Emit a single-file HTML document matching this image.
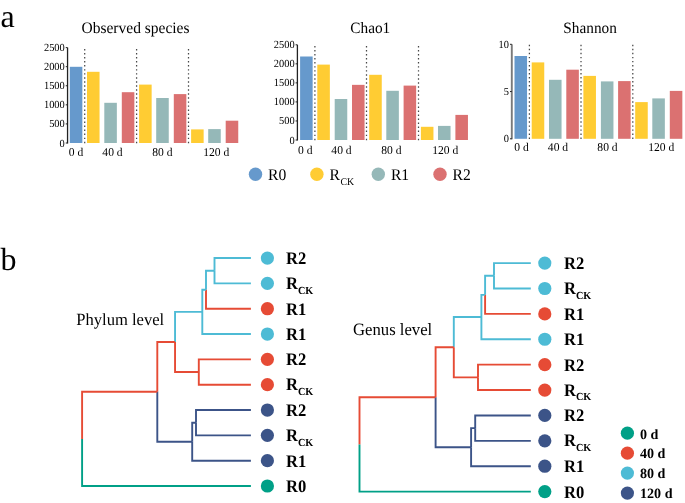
<!DOCTYPE html><html><head><meta charset="utf-8"><style>html,body{margin:0;padding:0;background:#fff;overflow:hidden;}svg{display:block;will-change:transform;} text{text-rendering:geometricPrecision;font-family:"Liberation Serif",serif;}</style></head><body>
<svg width="685" height="503" viewBox="0 0 685 503">
<rect width="685" height="503" fill="#fff"/>
<text x="0.50" y="26.50" font-size="32">a</text>
<text x="0.50" y="270.20" font-size="32">b</text>
<rect x="69.8" y="66.8" width="12.55" height="76.2" fill="#6699CC"/>
<rect x="87" y="71.8" width="12.55" height="71.2" fill="#FFCC33"/>
<rect x="104.3" y="102.8" width="12.55" height="40.2" fill="#95B8B8"/>
<rect x="121.8" y="92.2" width="12.55" height="50.8" fill="#DB7171"/>
<rect x="139.1" y="84.6" width="12.55" height="58.4" fill="#FFCC33"/>
<rect x="156.2" y="98" width="12.55" height="45" fill="#95B8B8"/>
<rect x="173.8" y="94.1" width="12.55" height="48.9" fill="#DB7171"/>
<rect x="191.1" y="129.4" width="12.55" height="13.6" fill="#FFCC33"/>
<rect x="208.2" y="129.1" width="12.55" height="13.9" fill="#95B8B8"/>
<rect x="225.7" y="120.7" width="12.55" height="22.3" fill="#DB7171"/>
<path d="M84.08,141.68h1.25v1.45h-1.25zM84.08,137.65h1.25v1.45h-1.25zM84.08,133.62h1.25v1.45h-1.25zM84.08,129.59h1.25v1.45h-1.25zM84.08,125.56h1.25v1.45h-1.25zM84.08,121.53h1.25v1.45h-1.25zM84.08,117.50h1.25v1.45h-1.25zM84.08,113.47h1.25v1.45h-1.25zM84.08,109.44h1.25v1.45h-1.25zM84.08,105.41h1.25v1.45h-1.25zM84.08,101.38h1.25v1.45h-1.25zM84.08,97.34h1.25v1.45h-1.25zM84.08,93.32h1.25v1.45h-1.25zM84.08,89.29h1.25v1.45h-1.25zM84.08,85.26h1.25v1.45h-1.25zM84.08,81.23h1.25v1.45h-1.25zM84.08,77.20h1.25v1.45h-1.25zM84.08,73.17h1.25v1.45h-1.25zM84.08,69.14h1.25v1.45h-1.25zM84.08,65.11h1.25v1.45h-1.25zM84.08,61.07h1.25v1.45h-1.25zM84.08,57.04h1.25v1.45h-1.25zM84.08,53.01h1.25v1.45h-1.25zM84.08,48.98h1.25v1.45h-1.25z" fill="#474747"/>
<path d="M135.97,141.68h1.25v1.45h-1.25zM135.97,137.65h1.25v1.45h-1.25zM135.97,133.62h1.25v1.45h-1.25zM135.97,129.59h1.25v1.45h-1.25zM135.97,125.56h1.25v1.45h-1.25zM135.97,121.53h1.25v1.45h-1.25zM135.97,117.50h1.25v1.45h-1.25zM135.97,113.47h1.25v1.45h-1.25zM135.97,109.44h1.25v1.45h-1.25zM135.97,105.41h1.25v1.45h-1.25zM135.97,101.38h1.25v1.45h-1.25zM135.97,97.34h1.25v1.45h-1.25zM135.97,93.32h1.25v1.45h-1.25zM135.97,89.29h1.25v1.45h-1.25zM135.97,85.26h1.25v1.45h-1.25zM135.97,81.23h1.25v1.45h-1.25zM135.97,77.20h1.25v1.45h-1.25zM135.97,73.17h1.25v1.45h-1.25zM135.97,69.14h1.25v1.45h-1.25zM135.97,65.11h1.25v1.45h-1.25zM135.97,61.07h1.25v1.45h-1.25zM135.97,57.04h1.25v1.45h-1.25zM135.97,53.01h1.25v1.45h-1.25zM135.97,48.98h1.25v1.45h-1.25z" fill="#474747"/>
<path d="M187.88,141.68h1.25v1.45h-1.25zM187.88,137.65h1.25v1.45h-1.25zM187.88,133.62h1.25v1.45h-1.25zM187.88,129.59h1.25v1.45h-1.25zM187.88,125.56h1.25v1.45h-1.25zM187.88,121.53h1.25v1.45h-1.25zM187.88,117.50h1.25v1.45h-1.25zM187.88,113.47h1.25v1.45h-1.25zM187.88,109.44h1.25v1.45h-1.25zM187.88,105.41h1.25v1.45h-1.25zM187.88,101.38h1.25v1.45h-1.25zM187.88,97.34h1.25v1.45h-1.25zM187.88,93.32h1.25v1.45h-1.25zM187.88,89.29h1.25v1.45h-1.25zM187.88,85.26h1.25v1.45h-1.25zM187.88,81.23h1.25v1.45h-1.25zM187.88,77.20h1.25v1.45h-1.25zM187.88,73.17h1.25v1.45h-1.25zM187.88,69.14h1.25v1.45h-1.25zM187.88,65.11h1.25v1.45h-1.25zM187.88,61.07h1.25v1.45h-1.25zM187.88,57.04h1.25v1.45h-1.25zM187.88,53.01h1.25v1.45h-1.25zM187.88,48.98h1.25v1.45h-1.25z" fill="#474747"/>
<line x1="67.55" y1="47.6" x2="67.55" y2="143.5" stroke="#222" stroke-width="1.3"/>
<line x1="65.75" y1="143.00" x2="67.55" y2="143.00" stroke="#222" stroke-width="1"/>
<text transform="translate(64.75,146.50) scale(1,1.04)" font-size="10.4" text-anchor="end">0</text>
<line x1="65.75" y1="123.92" x2="67.55" y2="123.92" stroke="#222" stroke-width="1"/>
<text transform="translate(64.75,127.42) scale(1,1.04)" font-size="10.4" text-anchor="end">500</text>
<line x1="65.75" y1="104.84" x2="67.55" y2="104.84" stroke="#222" stroke-width="1"/>
<text transform="translate(64.75,108.34) scale(1,1.04)" font-size="10.4" text-anchor="end">1000</text>
<line x1="65.75" y1="85.76" x2="67.55" y2="85.76" stroke="#222" stroke-width="1"/>
<text transform="translate(64.75,89.26) scale(1,1.04)" font-size="10.4" text-anchor="end">1500</text>
<line x1="65.75" y1="66.68" x2="67.55" y2="66.68" stroke="#222" stroke-width="1"/>
<text transform="translate(64.75,70.18) scale(1,1.04)" font-size="10.4" text-anchor="end">2000</text>
<line x1="65.75" y1="47.60" x2="67.55" y2="47.60" stroke="#222" stroke-width="1"/>
<text transform="translate(64.75,51.10) scale(1,1.04)" font-size="10.4" text-anchor="end">2500</text>
<text transform="translate(76.00,155.60) scale(1,1.03)" font-size="11.6" text-anchor="middle">0 d</text>
<text transform="translate(112.50,155.60) scale(1,1.03)" font-size="11.6" text-anchor="middle">40 d</text>
<text transform="translate(162.40,155.60) scale(1,1.03)" font-size="11.6" text-anchor="middle">80 d</text>
<text transform="translate(216.30,155.60) scale(1,1.03)" font-size="11.6" text-anchor="middle">120 d</text>
<text transform="translate(135.50,32.90) scale(1,1.03)" font-size="15.5" text-anchor="middle">Observed species</text>
<rect x="300.1" y="56.5" width="12.55" height="83.5" fill="#6699CC"/>
<rect x="317.3" y="64.6" width="12.55" height="75.4" fill="#FFCC33"/>
<rect x="334.7" y="99" width="12.55" height="41" fill="#95B8B8"/>
<rect x="352" y="84.85" width="12.55" height="55.15" fill="#DB7171"/>
<rect x="369.2" y="74.8" width="12.55" height="65.2" fill="#FFCC33"/>
<rect x="386.3" y="90.8" width="12.55" height="49.2" fill="#95B8B8"/>
<rect x="403.6" y="85.6" width="12.55" height="54.4" fill="#DB7171"/>
<rect x="420.9" y="126.8" width="12.55" height="13.2" fill="#FFCC33"/>
<rect x="438" y="125.9" width="12.55" height="14.1" fill="#95B8B8"/>
<rect x="455.4" y="114.9" width="12.55" height="25.1" fill="#DB7171"/>
<path d="M314.27,138.68h1.25v1.45h-1.25zM314.27,134.65h1.25v1.45h-1.25zM314.27,130.62h1.25v1.45h-1.25zM314.27,126.59h1.25v1.45h-1.25zM314.27,122.56h1.25v1.45h-1.25zM314.27,118.53h1.25v1.45h-1.25zM314.27,114.50h1.25v1.45h-1.25zM314.27,110.47h1.25v1.45h-1.25zM314.27,106.44h1.25v1.45h-1.25zM314.27,102.41h1.25v1.45h-1.25zM314.27,98.38h1.25v1.45h-1.25zM314.27,94.34h1.25v1.45h-1.25zM314.27,90.32h1.25v1.45h-1.25zM314.27,86.29h1.25v1.45h-1.25zM314.27,82.26h1.25v1.45h-1.25zM314.27,78.23h1.25v1.45h-1.25zM314.27,74.20h1.25v1.45h-1.25zM314.27,70.17h1.25v1.45h-1.25zM314.27,66.14h1.25v1.45h-1.25zM314.27,62.10h1.25v1.45h-1.25zM314.27,58.07h1.25v1.45h-1.25zM314.27,54.04h1.25v1.45h-1.25zM314.27,50.01h1.25v1.45h-1.25zM314.27,45.98h1.25v1.45h-1.25z" fill="#474747"/>
<path d="M365.88,138.68h1.25v1.45h-1.25zM365.88,134.65h1.25v1.45h-1.25zM365.88,130.62h1.25v1.45h-1.25zM365.88,126.59h1.25v1.45h-1.25zM365.88,122.56h1.25v1.45h-1.25zM365.88,118.53h1.25v1.45h-1.25zM365.88,114.50h1.25v1.45h-1.25zM365.88,110.47h1.25v1.45h-1.25zM365.88,106.44h1.25v1.45h-1.25zM365.88,102.41h1.25v1.45h-1.25zM365.88,98.38h1.25v1.45h-1.25zM365.88,94.34h1.25v1.45h-1.25zM365.88,90.32h1.25v1.45h-1.25zM365.88,86.29h1.25v1.45h-1.25zM365.88,82.26h1.25v1.45h-1.25zM365.88,78.23h1.25v1.45h-1.25zM365.88,74.20h1.25v1.45h-1.25zM365.88,70.17h1.25v1.45h-1.25zM365.88,66.14h1.25v1.45h-1.25zM365.88,62.10h1.25v1.45h-1.25zM365.88,58.07h1.25v1.45h-1.25zM365.88,54.04h1.25v1.45h-1.25zM365.88,50.01h1.25v1.45h-1.25zM365.88,45.98h1.25v1.45h-1.25z" fill="#474747"/>
<path d="M417.88,138.68h1.25v1.45h-1.25zM417.88,134.65h1.25v1.45h-1.25zM417.88,130.62h1.25v1.45h-1.25zM417.88,126.59h1.25v1.45h-1.25zM417.88,122.56h1.25v1.45h-1.25zM417.88,118.53h1.25v1.45h-1.25zM417.88,114.50h1.25v1.45h-1.25zM417.88,110.47h1.25v1.45h-1.25zM417.88,106.44h1.25v1.45h-1.25zM417.88,102.41h1.25v1.45h-1.25zM417.88,98.38h1.25v1.45h-1.25zM417.88,94.34h1.25v1.45h-1.25zM417.88,90.32h1.25v1.45h-1.25zM417.88,86.29h1.25v1.45h-1.25zM417.88,82.26h1.25v1.45h-1.25zM417.88,78.23h1.25v1.45h-1.25zM417.88,74.20h1.25v1.45h-1.25zM417.88,70.17h1.25v1.45h-1.25zM417.88,66.14h1.25v1.45h-1.25zM417.88,62.10h1.25v1.45h-1.25zM417.88,58.07h1.25v1.45h-1.25zM417.88,54.04h1.25v1.45h-1.25zM417.88,50.01h1.25v1.45h-1.25zM417.88,45.98h1.25v1.45h-1.25z" fill="#474747"/>
<line x1="297.4" y1="44.8" x2="297.4" y2="140.5" stroke="#222" stroke-width="1.3"/>
<line x1="295.59999999999997" y1="140.00" x2="297.4" y2="140.00" stroke="#222" stroke-width="1"/>
<text transform="translate(294.60,143.50) scale(1,1.04)" font-size="10.4" text-anchor="end">0</text>
<line x1="295.59999999999997" y1="120.96" x2="297.4" y2="120.96" stroke="#222" stroke-width="1"/>
<text transform="translate(294.60,124.46) scale(1,1.04)" font-size="10.4" text-anchor="end">500</text>
<line x1="295.59999999999997" y1="101.92" x2="297.4" y2="101.92" stroke="#222" stroke-width="1"/>
<text transform="translate(294.60,105.42) scale(1,1.04)" font-size="10.4" text-anchor="end">1000</text>
<line x1="295.59999999999997" y1="82.88" x2="297.4" y2="82.88" stroke="#222" stroke-width="1"/>
<text transform="translate(294.60,86.38) scale(1,1.04)" font-size="10.4" text-anchor="end">1500</text>
<line x1="295.59999999999997" y1="63.84" x2="297.4" y2="63.84" stroke="#222" stroke-width="1"/>
<text transform="translate(294.60,67.34) scale(1,1.04)" font-size="10.4" text-anchor="end">2000</text>
<line x1="295.59999999999997" y1="44.80" x2="297.4" y2="44.80" stroke="#222" stroke-width="1"/>
<text transform="translate(294.60,48.30) scale(1,1.04)" font-size="10.4" text-anchor="end">2500</text>
<text transform="translate(305.30,153.60) scale(1,1.03)" font-size="11.6" text-anchor="middle">0 d</text>
<text transform="translate(341.50,153.60) scale(1,1.03)" font-size="11.6" text-anchor="middle">40 d</text>
<text transform="translate(391.40,153.60) scale(1,1.03)" font-size="11.6" text-anchor="middle">80 d</text>
<text transform="translate(445.30,153.60) scale(1,1.03)" font-size="11.6" text-anchor="middle">120 d</text>
<text transform="translate(370.30,32.70) scale(1,1.03)" font-size="15.3" text-anchor="middle">Chao1</text>
<rect x="514.5" y="56" width="12.55" height="82.8" fill="#6699CC"/>
<rect x="531.7" y="62.4" width="12.55" height="76.4" fill="#FFCC33"/>
<rect x="549" y="79.8" width="12.55" height="59.0" fill="#95B8B8"/>
<rect x="566.3" y="69.7" width="12.55" height="69.1" fill="#DB7171"/>
<rect x="583.4" y="75.9" width="12.55" height="62.9" fill="#FFCC33"/>
<rect x="600.9" y="81.4" width="12.55" height="57.4" fill="#95B8B8"/>
<rect x="618.1" y="81.1" width="12.55" height="57.7" fill="#DB7171"/>
<rect x="635.2" y="102.1" width="12.55" height="36.7" fill="#FFCC33"/>
<rect x="652.3" y="98.4" width="12.55" height="40.4" fill="#95B8B8"/>
<rect x="669.8" y="90.9" width="12.55" height="47.9" fill="#DB7171"/>
<path d="M528.77,137.48h1.25v1.45h-1.25zM528.77,133.45h1.25v1.45h-1.25zM528.77,129.42h1.25v1.45h-1.25zM528.77,125.39h1.25v1.45h-1.25zM528.77,121.36h1.25v1.45h-1.25zM528.77,117.33h1.25v1.45h-1.25zM528.77,113.30h1.25v1.45h-1.25zM528.77,109.27h1.25v1.45h-1.25zM528.77,105.24h1.25v1.45h-1.25zM528.77,101.21h1.25v1.45h-1.25zM528.77,97.18h1.25v1.45h-1.25zM528.77,93.15h1.25v1.45h-1.25zM528.77,89.12h1.25v1.45h-1.25zM528.77,85.09h1.25v1.45h-1.25zM528.77,81.06h1.25v1.45h-1.25zM528.77,77.03h1.25v1.45h-1.25zM528.77,73.00h1.25v1.45h-1.25zM528.77,68.97h1.25v1.45h-1.25zM528.77,64.94h1.25v1.45h-1.25zM528.77,60.91h1.25v1.45h-1.25zM528.77,56.88h1.25v1.45h-1.25zM528.77,52.85h1.25v1.45h-1.25zM528.77,48.82h1.25v1.45h-1.25zM528.77,44.79h1.25v1.45h-1.25z" fill="#474747"/>
<path d="M580.38,137.48h1.25v1.45h-1.25zM580.38,133.45h1.25v1.45h-1.25zM580.38,129.42h1.25v1.45h-1.25zM580.38,125.39h1.25v1.45h-1.25zM580.38,121.36h1.25v1.45h-1.25zM580.38,117.33h1.25v1.45h-1.25zM580.38,113.30h1.25v1.45h-1.25zM580.38,109.27h1.25v1.45h-1.25zM580.38,105.24h1.25v1.45h-1.25zM580.38,101.21h1.25v1.45h-1.25zM580.38,97.18h1.25v1.45h-1.25zM580.38,93.15h1.25v1.45h-1.25zM580.38,89.12h1.25v1.45h-1.25zM580.38,85.09h1.25v1.45h-1.25zM580.38,81.06h1.25v1.45h-1.25zM580.38,77.03h1.25v1.45h-1.25zM580.38,73.00h1.25v1.45h-1.25zM580.38,68.97h1.25v1.45h-1.25zM580.38,64.94h1.25v1.45h-1.25zM580.38,60.91h1.25v1.45h-1.25zM580.38,56.88h1.25v1.45h-1.25zM580.38,52.85h1.25v1.45h-1.25zM580.38,48.82h1.25v1.45h-1.25zM580.38,44.79h1.25v1.45h-1.25z" fill="#474747"/>
<path d="M632.17,137.48h1.25v1.45h-1.25zM632.17,133.45h1.25v1.45h-1.25zM632.17,129.42h1.25v1.45h-1.25zM632.17,125.39h1.25v1.45h-1.25zM632.17,121.36h1.25v1.45h-1.25zM632.17,117.33h1.25v1.45h-1.25zM632.17,113.30h1.25v1.45h-1.25zM632.17,109.27h1.25v1.45h-1.25zM632.17,105.24h1.25v1.45h-1.25zM632.17,101.21h1.25v1.45h-1.25zM632.17,97.18h1.25v1.45h-1.25zM632.17,93.15h1.25v1.45h-1.25zM632.17,89.12h1.25v1.45h-1.25zM632.17,85.09h1.25v1.45h-1.25zM632.17,81.06h1.25v1.45h-1.25zM632.17,77.03h1.25v1.45h-1.25zM632.17,73.00h1.25v1.45h-1.25zM632.17,68.97h1.25v1.45h-1.25zM632.17,64.94h1.25v1.45h-1.25zM632.17,60.91h1.25v1.45h-1.25zM632.17,56.88h1.25v1.45h-1.25zM632.17,52.85h1.25v1.45h-1.25zM632.17,48.82h1.25v1.45h-1.25zM632.17,44.79h1.25v1.45h-1.25z" fill="#474747"/>
<line x1="511.8" y1="44.3" x2="511.8" y2="139.3" stroke="#7a7a7a" stroke-width="1.9"/>
<line x1="510.0" y1="138.80" x2="511.8" y2="138.80" stroke="#222" stroke-width="1"/>
<text transform="translate(509.00,142.30) scale(1,1.04)" font-size="10.4" text-anchor="end">0</text>
<line x1="510.0" y1="91.55" x2="511.8" y2="91.55" stroke="#222" stroke-width="1"/>
<text transform="translate(509.00,95.05) scale(1,1.04)" font-size="10.4" text-anchor="end">5</text>
<line x1="510.0" y1="44.30" x2="511.8" y2="44.30" stroke="#222" stroke-width="1"/>
<text transform="translate(509.00,47.80) scale(1,1.04)" font-size="10.4" text-anchor="end">10</text>
<text transform="translate(521.60,150.80) scale(1,1.03)" font-size="11.6" text-anchor="middle">0 d</text>
<text transform="translate(558.00,150.80) scale(1,1.03)" font-size="11.6" text-anchor="middle">40 d</text>
<text transform="translate(607.50,150.80) scale(1,1.03)" font-size="11.6" text-anchor="middle">80 d</text>
<text transform="translate(661.30,150.80) scale(1,1.03)" font-size="11.6" text-anchor="middle">120 d</text>
<text transform="translate(590.10,32.80) scale(1,1.03)" font-size="15.3" text-anchor="middle">Shannon</text>
<circle cx="255.5" cy="174.2" r="6.7" fill="#6699CC"/>
<text transform="translate(268.10,179.90) scale(1,1.04)" font-size="15.6">R0</text>
<circle cx="316.9" cy="174.2" r="6.7" fill="#FFCC33"/>
<text transform="translate(329.50,179.90) scale(1,1.04)" font-size="15.6">R<tspan font-size="9.8" dx="0.6" dy="5.1">CK</tspan></text>
<circle cx="378.3" cy="174.2" r="6.7" fill="#95B8B8"/>
<text transform="translate(390.90,179.90) scale(1,1.04)" font-size="15.6">R1</text>
<circle cx="440" cy="174.2" r="6.7" fill="#DB7171"/>
<text transform="translate(452.60,179.90) scale(1,1.04)" font-size="15.6">R2</text>
<path d="M250.90,258.05H214.50V270.72" fill="none" stroke="#4DBBD5" stroke-width="1.9" stroke-linejoin="miter" stroke-linecap="butt"/>
<path d="M214.50,270.72V283.38H250.90" fill="none" stroke="#4DBBD5" stroke-width="1.9" stroke-linejoin="miter" stroke-linecap="butt"/>
<path d="M214.50,270.72H206.00V289.71" fill="none" stroke="#4DBBD5" stroke-width="1.9" stroke-linejoin="miter" stroke-linecap="butt"/>
<path d="M206.00,289.71V308.71H250.90" fill="none" stroke="#E64B35" stroke-width="1.9" stroke-linejoin="miter" stroke-linecap="butt"/>
<path d="M206.00,289.71H202.30V311.88" fill="none" stroke="#4DBBD5" stroke-width="1.9" stroke-linejoin="miter" stroke-linecap="butt"/>
<path d="M202.30,311.88V334.04H250.90" fill="none" stroke="#4DBBD5" stroke-width="1.9" stroke-linejoin="miter" stroke-linecap="butt"/>
<path d="M250.90,359.37H198.80V372.03" fill="none" stroke="#E64B35" stroke-width="1.9" stroke-linejoin="miter" stroke-linecap="butt"/>
<path d="M198.80,372.03V384.70H250.90" fill="none" stroke="#E64B35" stroke-width="1.9" stroke-linejoin="miter" stroke-linecap="butt"/>
<path d="M202.30,311.88H175.05V341.96" fill="none" stroke="#4DBBD5" stroke-width="1.9" stroke-linejoin="miter" stroke-linecap="butt"/>
<path d="M175.05,341.96V372.03H198.80" fill="none" stroke="#E64B35" stroke-width="1.9" stroke-linejoin="miter" stroke-linecap="butt"/>
<path d="M250.90,410.03H196.00V422.69" fill="none" stroke="#3C5488" stroke-width="1.9" stroke-linejoin="miter" stroke-linecap="butt"/>
<path d="M196.00,422.69V435.36H250.90" fill="none" stroke="#3C5488" stroke-width="1.9" stroke-linejoin="miter" stroke-linecap="butt"/>
<path d="M196.00,422.69H192.20V441.69" fill="none" stroke="#3C5488" stroke-width="1.9" stroke-linejoin="miter" stroke-linecap="butt"/>
<path d="M192.20,441.69V460.69H250.90" fill="none" stroke="#3C5488" stroke-width="1.9" stroke-linejoin="miter" stroke-linecap="butt"/>
<path d="M175.05,341.96H157.30V391.82" fill="none" stroke="#E64B35" stroke-width="1.9" stroke-linejoin="miter" stroke-linecap="butt"/>
<path d="M157.30,391.82V441.69H192.20" fill="none" stroke="#3C5488" stroke-width="1.9" stroke-linejoin="miter" stroke-linecap="butt"/>
<path d="M157.30,391.82H82.10V438.92" fill="none" stroke="#E64B35" stroke-width="1.9" stroke-linejoin="miter" stroke-linecap="butt"/>
<path d="M82.10,438.92V486.02H250.90" fill="none" stroke="#00A087" stroke-width="1.9" stroke-linejoin="miter" stroke-linecap="butt"/>
<circle cx="267.4" cy="258.05" r="6.6" fill="#4DBBD5"/>
<text transform="translate(286.00,264.05) scale(1,1.06)" font-size="16.6" font-weight="bold">R2</text>
<circle cx="267.4" cy="283.38" r="6.6" fill="#4DBBD5"/>
<text transform="translate(286.00,288.98) scale(1,1.06)" font-size="16.6" font-weight="bold">R<tspan font-size="10.2" dy="4.5">CK</tspan></text>
<circle cx="267.4" cy="308.71" r="6.6" fill="#E64B35"/>
<text transform="translate(286.00,314.71) scale(1,1.06)" font-size="16.6" font-weight="bold">R1</text>
<circle cx="267.4" cy="334.04" r="6.6" fill="#4DBBD5"/>
<text transform="translate(286.00,340.04) scale(1,1.06)" font-size="16.6" font-weight="bold">R1</text>
<circle cx="267.4" cy="359.37" r="6.6" fill="#E64B35"/>
<text transform="translate(286.00,365.37) scale(1,1.06)" font-size="16.6" font-weight="bold">R2</text>
<circle cx="267.4" cy="384.70" r="6.6" fill="#E64B35"/>
<text transform="translate(286.00,390.30) scale(1,1.06)" font-size="16.6" font-weight="bold">R<tspan font-size="10.2" dy="4.5">CK</tspan></text>
<circle cx="267.4" cy="410.03" r="6.6" fill="#3C5488"/>
<text transform="translate(286.00,416.03) scale(1,1.06)" font-size="16.6" font-weight="bold">R2</text>
<circle cx="267.4" cy="435.36" r="6.6" fill="#3C5488"/>
<text transform="translate(286.00,440.96) scale(1,1.06)" font-size="16.6" font-weight="bold">R<tspan font-size="10.2" dy="4.5">CK</tspan></text>
<circle cx="267.4" cy="460.69" r="6.6" fill="#3C5488"/>
<text transform="translate(286.00,466.69) scale(1,1.06)" font-size="16.6" font-weight="bold">R1</text>
<circle cx="267.4" cy="486.02" r="6.6" fill="#00A087"/>
<text transform="translate(286.00,492.02) scale(1,1.06)" font-size="16.6" font-weight="bold">R0</text>
<text transform="translate(76.20,324.60) scale(1,1.03)" font-size="16.6">Phylum level</text>
<path d="M530.80,263.10H494.00V275.80" fill="none" stroke="#4DBBD5" stroke-width="1.9" stroke-linejoin="miter" stroke-linecap="butt"/>
<path d="M494.00,275.80V288.49H530.80" fill="none" stroke="#4DBBD5" stroke-width="1.9" stroke-linejoin="miter" stroke-linecap="butt"/>
<path d="M494.00,275.80H485.10V294.84" fill="none" stroke="#4DBBD5" stroke-width="1.9" stroke-linejoin="miter" stroke-linecap="butt"/>
<path d="M485.10,294.84V313.88H530.80" fill="none" stroke="#E64B35" stroke-width="1.9" stroke-linejoin="miter" stroke-linecap="butt"/>
<path d="M485.10,294.84H481.40V317.05" fill="none" stroke="#4DBBD5" stroke-width="1.9" stroke-linejoin="miter" stroke-linecap="butt"/>
<path d="M481.40,317.05V339.27H530.80" fill="none" stroke="#4DBBD5" stroke-width="1.9" stroke-linejoin="miter" stroke-linecap="butt"/>
<path d="M530.80,364.66H478.00V377.36" fill="none" stroke="#E64B35" stroke-width="1.9" stroke-linejoin="miter" stroke-linecap="butt"/>
<path d="M478.00,377.36V390.05H530.80" fill="none" stroke="#E64B35" stroke-width="1.9" stroke-linejoin="miter" stroke-linecap="butt"/>
<path d="M481.40,317.05H453.80V347.20" fill="none" stroke="#4DBBD5" stroke-width="1.9" stroke-linejoin="miter" stroke-linecap="butt"/>
<path d="M453.80,347.20V377.36H478.00" fill="none" stroke="#E64B35" stroke-width="1.9" stroke-linejoin="miter" stroke-linecap="butt"/>
<path d="M530.80,415.44H475.20V428.14" fill="none" stroke="#3C5488" stroke-width="1.9" stroke-linejoin="miter" stroke-linecap="butt"/>
<path d="M475.20,428.14V440.83H530.80" fill="none" stroke="#3C5488" stroke-width="1.9" stroke-linejoin="miter" stroke-linecap="butt"/>
<path d="M475.20,428.14H471.10V447.18" fill="none" stroke="#3C5488" stroke-width="1.9" stroke-linejoin="miter" stroke-linecap="butt"/>
<path d="M471.10,447.18V466.22H530.80" fill="none" stroke="#3C5488" stroke-width="1.9" stroke-linejoin="miter" stroke-linecap="butt"/>
<path d="M453.80,347.20H435.60V397.19" fill="none" stroke="#E64B35" stroke-width="1.9" stroke-linejoin="miter" stroke-linecap="butt"/>
<path d="M435.60,397.19V447.18H471.10" fill="none" stroke="#3C5488" stroke-width="1.9" stroke-linejoin="miter" stroke-linecap="butt"/>
<path d="M435.60,397.19H359.50V444.40" fill="none" stroke="#E64B35" stroke-width="1.9" stroke-linejoin="miter" stroke-linecap="butt"/>
<path d="M359.50,444.40V491.61H530.80" fill="none" stroke="#00A087" stroke-width="1.9" stroke-linejoin="miter" stroke-linecap="butt"/>
<circle cx="544.8" cy="263.10" r="6.6" fill="#4DBBD5"/>
<text transform="translate(564.00,269.10) scale(1,1.06)" font-size="16.6" font-weight="bold">R2</text>
<circle cx="544.8" cy="288.49" r="6.6" fill="#4DBBD5"/>
<text transform="translate(564.00,294.09) scale(1,1.06)" font-size="16.6" font-weight="bold">R<tspan font-size="10.2" dy="4.5">CK</tspan></text>
<circle cx="544.8" cy="313.88" r="6.6" fill="#E64B35"/>
<text transform="translate(564.00,319.88) scale(1,1.06)" font-size="16.6" font-weight="bold">R1</text>
<circle cx="544.8" cy="339.27" r="6.6" fill="#4DBBD5"/>
<text transform="translate(564.00,345.27) scale(1,1.06)" font-size="16.6" font-weight="bold">R1</text>
<circle cx="544.8" cy="364.66" r="6.6" fill="#E64B35"/>
<text transform="translate(564.00,370.66) scale(1,1.06)" font-size="16.6" font-weight="bold">R2</text>
<circle cx="544.8" cy="390.05" r="6.6" fill="#E64B35"/>
<text transform="translate(564.00,395.65) scale(1,1.06)" font-size="16.6" font-weight="bold">R<tspan font-size="10.2" dy="4.5">CK</tspan></text>
<circle cx="544.8" cy="415.44" r="6.6" fill="#3C5488"/>
<text transform="translate(564.00,421.44) scale(1,1.06)" font-size="16.6" font-weight="bold">R2</text>
<circle cx="544.8" cy="440.83" r="6.6" fill="#3C5488"/>
<text transform="translate(564.00,446.43) scale(1,1.06)" font-size="16.6" font-weight="bold">R<tspan font-size="10.2" dy="4.5">CK</tspan></text>
<circle cx="544.8" cy="466.22" r="6.6" fill="#3C5488"/>
<text transform="translate(564.00,472.22) scale(1,1.06)" font-size="16.6" font-weight="bold">R1</text>
<circle cx="544.8" cy="491.61" r="6.6" fill="#00A087"/>
<text transform="translate(564.00,497.61) scale(1,1.06)" font-size="16.6" font-weight="bold">R0</text>
<text transform="translate(353.00,334.50) scale(1,1.03)" font-size="16.7">Genus level</text>
<circle cx="627.4" cy="433.20" r="6.6" fill="#00A087"/>
<text transform="translate(640.00,438.50) scale(1,1.01)" font-size="14.1" font-weight="bold">0 d</text>
<circle cx="627.4" cy="453.15" r="6.6" fill="#E64B35"/>
<text transform="translate(640.00,458.45) scale(1,1.01)" font-size="14.1" font-weight="bold">40 d</text>
<circle cx="627.4" cy="473.10" r="6.6" fill="#4DBBD5"/>
<text transform="translate(640.00,478.40) scale(1,1.01)" font-size="14.1" font-weight="bold">80 d</text>
<circle cx="627.4" cy="493.05" r="6.6" fill="#3C5488"/>
<text transform="translate(640.00,498.35) scale(1,1.01)" font-size="14.1" font-weight="bold">120 d</text>
</svg></body></html>
